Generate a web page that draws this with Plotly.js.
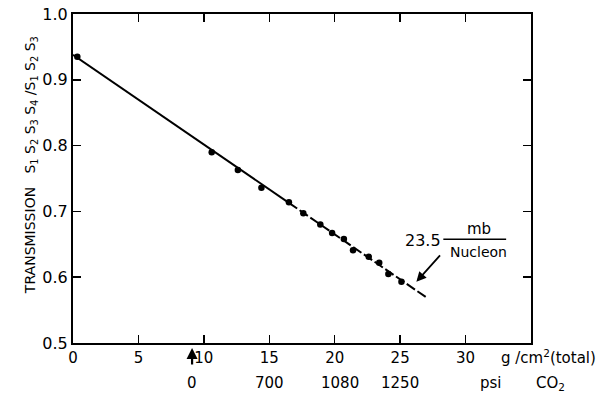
<!DOCTYPE html>
<html>
<head>
<meta charset="utf-8">
<script src="https://cdn.plot.ly/plotly-3.0.1.min.js"></script>
<style>
  html, body { margin: 0; padding: 0; background: #fff; }
  #chart { width: 600px; height: 396px; }
</style>
</head>
<body>
<div id="chart"></div>
<script>
// Measured transmission vs. absorber thickness (g/cm^2 total)
const thickness = [0.33, 10.6, 12.6, 14.4, 16.5, 17.6, 18.9, 19.8, 20.7, 21.4, 22.6, 23.4, 24.1, 25.1];
const transmission = [0.935, 0.790, 0.763, 0.736, 0.714, 0.697, 0.680, 0.667, 0.658, 0.641, 0.631, 0.622, 0.605, 0.593];

// Fitted straight line (23.5 mb/nucleon): solid part, then dashed continuation
const fitSolidX = [0, 16.5];
const fitSolidY = [0.938, 0.713];
const fitDashX = [16.5, 27.1];
const fitDashY = [0.713, 0.568];

// Bottom axis ticks
const xTicks = [0, 5, 10, 15, 20, 25, 30];
const yTicks = [0.5, 0.6, 0.7, 0.8, 0.9, 1.0];

// CO2 pressure scale (psi) placed under the thickness axis
const psiPos = [9.1, 15, 20.4, 25];
const psiLabels = ['0', '700', '1080', '1250'];

const FONT = 'DejaVu Sans, Liberation Sans, sans-serif';

const traces = [
  { x: fitSolidX, y: fitSolidY, mode: 'lines', line: { color: '#000', width: 2 }, hoverinfo: 'skip' },
  { x: fitDashX, y: fitDashY, mode: 'lines', line: { color: '#000', width: 2, dash: '10px,3px' }, hoverinfo: 'skip' },
  { x: thickness, y: transmission, mode: 'markers', marker: { color: '#000', size: 6.5 } }
];

const annotations = [];

// y-axis label
annotations.push({
  xref: 'paper', yref: 'paper', x: -0.114, y: 0.54,
  text: 'TRANSMISSION   S<sub>1</sub> S<sub>2</sub> S<sub>3</sub> S<sub>4</sub> /S<sub>1</sub> S<sub>2</sub> S<sub>3</sub>',
  textangle: -90, showarrow: false, font: { family: FONT, size: 14, color: '#000' }
});

// x-axis unit label
annotations.push({
  xref: 'paper', yref: 'paper', x: 0.93, y: -0.042, xanchor: 'left', yanchor: 'middle',
  text: 'g /cm<sup>2</sup>(total)', showarrow: false, font: { family: FONT, size: 15, color: '#000' }
});

// pressure scale labels
psiPos.forEach((p, i) => {
  annotations.push({
    xref: 'x', yref: 'paper', x: p, y: -0.122, yanchor: 'middle',
    text: psiLabels[i], showarrow: false, font: { family: FONT, size: 15, color: '#000' }
  });
});
annotations.push({
  xref: 'paper', yref: 'paper', x: 0.941, y: -0.122, yanchor: 'middle',
  text: 'psi', showarrow: false, font: { family: FONT, size: 15, color: '#000' }
});
annotations.push({
  xref: 'paper', yref: 'paper', x: 1.078, y: -0.122, yanchor: 'middle',
  text: 'CO<sub>2</sub>', showarrow: false, font: { family: FONT, size: 15, color: '#000' }
});

// arrow marking zero pressure
annotations.push({
  xref: 'x', yref: 'paper', x: psiPos[0], y: -0.015,
  text: '', showarrow: true, arrowhead: 2, arrowsize: 1, arrowwidth: 2.2, arrowcolor: '#000',
  ax: 0, ay: 18
});

// slope annotation
annotations.push({
  xref: 'x', yref: 'y', x: 26.75, y: 0.6565,
  text: '23.5', showarrow: false, font: { family: FONT, size: 16, color: '#000' }
});
annotations.push({
  xref: 'x', yref: 'y', x: 31.0, y: 0.673,
  text: 'mb', showarrow: false, font: { family: FONT, size: 15, color: '#000' }
});
annotations.push({
  xref: 'x', yref: 'y', x: 31.0, y: 0.639,
  text: 'Nucleon', showarrow: false, font: { family: FONT, size: 14, color: '#000' }
});
annotations.push({
  xref: 'x', yref: 'y', x: 26.24, y: 0.593,
  text: '', showarrow: true, arrowhead: 2, arrowsize: 1.1, arrowwidth: 1.8, arrowcolor: '#000',
  ax: 25, ay: -28
});

const layout = {
  width: 600, height: 396,
  margin: { l: 73, r: 69, t: 14, b: 53 },
  paper_bgcolor: '#fff', plot_bgcolor: '#fff',
  showlegend: false,
  font: { family: FONT, size: 15, color: '#000' },
  xaxis: {
    range: [0, 35], tickvals: xTicks, ticktext: xTicks.map(String),
    ticks: 'inside', ticklen: 8, tickwidth: 1.5, tickcolor: '#000',
    showline: true, linewidth: 2, linecolor: '#000', mirror: 'ticks',
    showgrid: false, zeroline: false,
    tickfont: { family: FONT, size: 15, color: '#000' }
  },
  yaxis: {
    range: [0.5, 1.0], tickvals: yTicks, ticktext: yTicks.map(v => v.toFixed(1)),
    ticks: 'inside', ticklen: 8, tickwidth: 1.5, tickcolor: '#000',
    showline: true, linewidth: 2, linecolor: '#000', mirror: 'ticks',
    showgrid: false, zeroline: false,
    tickfont: { family: FONT, size: 16, color: '#000' }
  },
  shapes: [
    { type: 'line', xref: 'x', yref: 'y', x0: 28.3, x1: 33.1, y0: 0.6576, y1: 0.6576,
      line: { color: '#000', width: 1.5 } }
  ],
  annotations: annotations
};

Plotly.newPlot('chart', traces, layout, { staticPlot: true, displayModeBar: false });
</script>
</body>
</html>
